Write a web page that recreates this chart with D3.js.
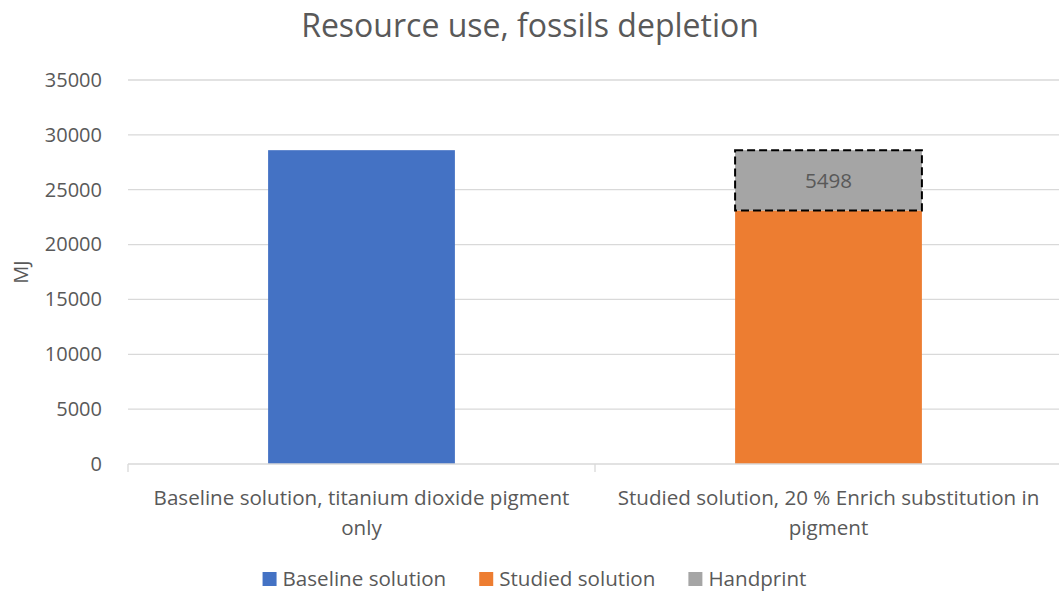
<!DOCTYPE html>
<html>
<head>
<meta charset="utf-8">
<script src="https://cdn.jsdelivr.net/npm/d3@7"></script>
<style>
  body { margin: 0; background: #fff; }
  svg text { font-family: "Open Sans", sans-serif; fill: #595959; }
</style>
</head>
<body>
<svg id="chart" width="1059" height="592"></svg>
<script>
// Fossil resource use per solution (MJ)
const categories = [
  "Baseline solution, titanium dioxide pigment only",
  "Studied solution, 20 % Enrich substitution in pigment"
];
const seriesNames = ["Baseline solution", "Studied solution", "Handprint"];
const baselineValues = [28604, 0];
const studiedValues = [0, 23106];
const handprintValues = [0, 5498];
const yTicks = [0, 5000, 10000, 15000, 20000, 25000, 30000, 35000];
const colors = ["#4472C4", "#ED7D31", "#A5A5A5"];

const svg = d3.select("#chart");
const W = 1059, H = 592;
const margin = { left: 128, right: -3, top: 80, bottom: 128 };
const FONT = 20;
const LABEL_FONT = 20.6;

const x = d3.scaleBand()
  .domain(categories)
  .range([margin.left, W - margin.right])
  .paddingInner(0.6).paddingOuter(0.3);
const y = d3.scaleLinear().domain([0, 35000]).range([H - margin.bottom, margin.top]);

// Title
svg.append("text")
  .attr("x", 530).attr("y", 37)
  .attr("text-anchor", "middle")
  .style("font-size", "32px")
  .text("Resource use, fossils depletion");

// Gridlines
svg.append("g").selectAll("line")
  .data(yTicks.filter(d => d > 0))
  .join("line")
  .attr("x1", margin.left).attr("x2", W)
  .attr("y1", d => y(d)).attr("y2", d => y(d))
  .attr("stroke", "#D9D9D9").attr("stroke-width", 1.3);

// Y axis labels
const yAxis = d3.axisLeft(y).tickValues(yTicks).tickSize(0).tickPadding(26).tickFormat(d3.format("d"));
const gy = svg.append("g").attr("transform", `translate(${margin.left},0)`).call(yAxis);
gy.select(".domain").remove();
gy.selectAll("text")
  .style("font-size", FONT + "px")
  .style("font-family", "'Open Sans', sans-serif")
  .attr("fill", "#595959");

// Y axis title
svg.append("text")
  .attr("transform", `translate(28,${(y(0) + y(35000)) / 2}) rotate(-90)`)
  .attr("text-anchor", "middle")
  .style("font-size", FONT + "px")
  .text("MJ");

// Stacked bars
const rows = categories.map((c, i) => ({
  category: c,
  "Baseline solution": baselineValues[i],
  "Studied solution": studiedValues[i],
  "Handprint": handprintValues[i]
}));
const stacked = d3.stack().keys(seriesNames)(rows);

stacked.forEach((layer, li) => {
  const g = svg.append("g");
  layer.forEach(d => {
    const v = d[1] - d[0];
    if (v <= 0) return;
    const rx = x(d.data.category), rw = x.bandwidth();
    const r = g.append("rect")
      .attr("x", rx).attr("width", rw)
      .attr("y", y(d[1])).attr("height", y(d[0]) - y(d[1]))
      .attr("fill", colors[li]);
    if (layer.key === "Handprint") {
      r.attr("stroke", "#000").attr("stroke-width", 2).attr("stroke-dasharray", "8,4");
      svg.append("text")
        .attr("x", rx + rw / 2).attr("y", (y(d[0]) + y(d[1])) / 2)
        .attr("dy", "0.35em").attr("text-anchor", "middle")
        .style("font-size", LABEL_FONT + "px").attr("fill", "#404040")
        .text(d3.format("d")(v));
    }
  });
});

// X axis line and category dividers
const x0 = x.range()[0], x1 = x.range()[1];
svg.append("line")
  .attr("x1", x0).attr("x2", W).attr("y1", y(0)).attr("y2", y(0))
  .attr("stroke", "#D9D9D9").attr("stroke-width", 1.3);
svg.append("g").selectAll("line")
  .data(d3.range(categories.length))
  .join("line")
  .attr("x1", i => x0 + i * (x1 - x0) / categories.length)
  .attr("x2", i => x0 + i * (x1 - x0) / categories.length)
  .attr("y1", y(0)).attr("y2", y(0) + 8)
  .attr("stroke", "#D9D9D9").attr("stroke-width", 1.3);

// Category labels, wrapped within band width
function wrapLines(text, maxW, size) {
  const tmp = svg.append("text").style("font-size", size + "px");
  const words = text.split(" ");
  const lines = [];
  let line = [];
  words.forEach(w => {
    const test = line.concat([w]).join(" ");
    tmp.text(test);
    if (tmp.node().getComputedTextLength() > maxW && line.length) {
      lines.push(line.join(" "));
      line = [w];
    } else line = line.concat([w]);
  });
  if (line.length) lines.push(line.join(" "));
  tmp.remove();
  return lines;
}
categories.forEach((c, i) => {
  const cx = x0 + (i + 0.5) * (x1 - x0) / categories.length;
  const lines = wrapLines(c, 450, LABEL_FONT);
  const t = svg.append("text").attr("text-anchor", "middle").style("font-size", LABEL_FONT + "px");
  lines.forEach((ln, k) => {
    t.append("tspan").attr("x", cx).attr("y", 505 + k * 30).text(ln);
  });
});

// Legend
const lg = svg.append("g");
let lx = 0;
seriesNames.forEach((n, i) => {
  const g = lg.append("g").attr("transform", `translate(${lx},0)`);
  g.append("rect").attr("x", 0).attr("y", -7).attr("width", 14).attr("height", 14).attr("fill", colors[i]);
  const t = g.append("text").attr("x", 20).attr("y", 0).attr("dy", "0.35em")
    .style("font-size", LABEL_FONT + "px").text(n);
  lx += 20 + t.node().getComputedTextLength() + 33;
});
const totalW = lx - 33;
lg.attr("transform", `translate(${(W - totalW) / 2 + 5},579)`);
</script>
</body>
</html>
